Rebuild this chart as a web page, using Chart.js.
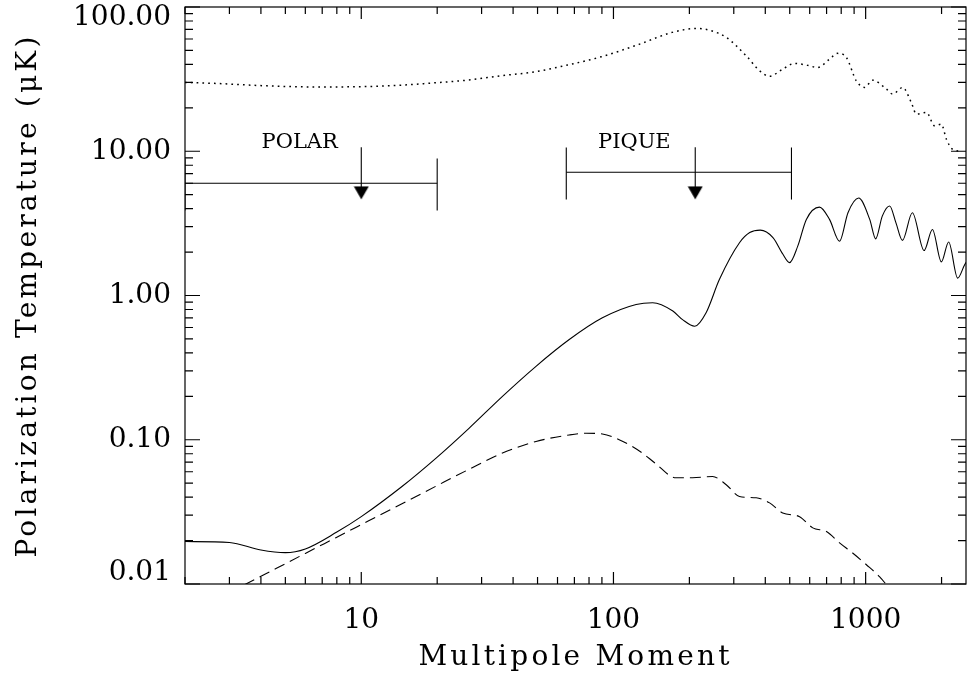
<!DOCTYPE html>
<html>
<head>
<meta charset="utf-8">
<script src="https://cdn.jsdelivr.net/npm/chart.js@4.4.1/dist/chart.umd.min.js"></script>
<style>
  html, body { margin: 0; padding: 0; background: #fff; }
</style>
</head>
<body>
<canvas id="cmb" width="967" height="676"></canvas>
<script>
// temperature anisotropy (dotted)
const tempEll = [2, 2.68, 4.24, 6.69, 10.6, 14.4, 19.5, 26.3, 35.9, 48.6, 65.7, 89.5, 127, 171, 215, 244, 280, 336, 380, 416, 469, 523, 582, 645, 720, 774, 838, 918, 991, 1066, 1208, 1280, 1402, 1518, 1589, 1741, 1879, 1996, 2091, 2214, 2399]
const tempVal = [30.0, 29.5, 28.4, 27.9, 28.1, 28.7, 29.8, 31.1, 33.4, 35.5, 39.6, 45.2, 55.3, 66.7, 71.1, 68.5, 61.6, 45.9, 36.1, 33.1, 37.1, 40.6, 39.6, 38.1, 43.6, 47.7, 44.8, 30.8, 27.7, 31.1, 27.0, 24.9, 27.7, 21.7, 18.1, 18.6, 15.0, 15.4, 12.1, 10.3, 10.0]

// E polarization (solid)
const polEll = [2, 3, 4, 5, 6, 8, 10, 14.5, 19.8, 26.8, 36.3, 49.3, 66.8, 90.4, 123, 143, 172, 188, 210, 233, 263, 316, 347, 382, 429, 470, 499, 538, 582, 656, 719, 788, 851, 938, 1038, 1096, 1164, 1245, 1318, 1399, 1532, 1705, 1840, 1996, 2134, 2317, 2472, 2560]
const polVal = [0.0197, 0.0194, 0.0172, 0.0165, 0.0175, 0.0229, 0.0293, 0.0474, 0.0746, 0.1205, 0.200, 0.323, 0.495, 0.70, 0.866, 0.89, 0.78, 0.68, 0.612, 0.76, 1.29, 2.32, 2.73, 2.84, 2.52, 1.93, 1.69, 2.20, 3.37, 4.10, 3.37, 2.38, 3.75, 4.74, 3.37, 2.47, 3.55, 4.17, 3.20, 2.41, 3.75, 2.05, 2.87, 1.71, 2.35, 1.32, 1.64, 1.80]

// dashed curve
const dashEll = [3.0, 3.49, 4.59, 6, 8, 10.7, 14.5, 19.8, 26.8, 36.3, 49.3, 66.8, 78, 90.4, 109, 130, 146, 177, 206, 247, 280, 316, 368, 416, 469, 547, 617, 699, 788, 888, 1007, 1137, 1250]
const dashVal = [0.0087, 0.0100, 0.0128, 0.0163, 0.0211, 0.0274, 0.0360, 0.0477, 0.0625, 0.0809, 0.0973, 0.108, 0.111, 0.1096, 0.0973, 0.081, 0.069, 0.0545, 0.0545, 0.0556, 0.0488, 0.0404, 0.0396, 0.0365, 0.0311, 0.0293, 0.0245, 0.0231, 0.0193, 0.0164, 0.0136, 0.0112, 0.0092]

// experimental upper limits
const expNames = ['POLAR', 'PIQUE']
const expLow = [2, 65]
const expHigh = [20, 508]
const expCentre = [10, 211]
const expLimit = [6.0, 7.15]

// tick labels
const xLabels = [10, 100, 1000]
const yLabels = [0.01, 0.1, 1, 10, 100]

// drawing details for the limit markers (data units)
const capSpan = [0.647, 1.485]
const arrowTop = 10.65
const arrowHead = 5.15
const labelEll = [5.7, 121]
const labelVal = 11.4

const xMin = 2, xMax = 2500, yMin = 0.01, yMax = 100

const near = (a, b) => Math.abs(a - b) < 1e-6 * Math.max(1, Math.abs(b))
const isStep = v => {
    const m = v / Math.pow(10, Math.floor(Math.log10(v) + 1e-9))
    return Math.abs(m - Math.round(m)) < 1e-6
}
const isDecade = v => {
    const e = Math.log10(v)
    return Math.abs(e - Math.round(e)) < 1e-6
}

// filled arrow head, used as a point style so it does not pad the chart area
const arrowImg = document.createElement('canvas')
arrowImg.width = 16
arrowImg.height = 14
const g = arrowImg.getContext('2d')
g.fillStyle = '#000'
g.beginPath()
g.moveTo(0.5, 0.5)
g.lineTo(15.5, 0.5)
g.lineTo(8, 13.5)
g.closePath()
g.fill()

const pts = (xs, ys) => xs.map((x, i) => ({x: x, y: ys[i]}))
const line = (data, extra) => Object.assign({
    data: data,
    showLine: true,
    borderColor: '#000',
    borderWidth: 1.1,
    pointRadius: 0,
    pointHoverRadius: 0,
    fill: false
}, extra || {})

const datasets = [
    line(pts(tempEll, tempVal), {borderDash: [1.7, 4.1], borderWidth: 1.5, cubicInterpolationMode: 'monotone'}),
    line(pts(polEll, polVal), {cubicInterpolationMode: 'monotone'}),
    line(pts(dashEll, dashVal), {borderDash: [11, 6], cubicInterpolationMode: 'monotone'})
]

expNames.forEach((name, i) => {
    const lo = expLow[i], hi = expHigh[i], c = expCentre[i], v = expLimit[i]
    datasets.push(line([{x: lo, y: v}, {x: hi, y: v}]))
    datasets.push(line([{x: lo, y: v * capSpan[0]}, {x: lo, y: v * capSpan[1]}]))
    datasets.push(line([{x: hi, y: v * capSpan[0]}, {x: hi, y: v * capSpan[1]}]))
    datasets.push(line([{x: c, y: arrowTop}, {x: c, y: arrowHead}]))
    datasets.push({
        data: [{x: c, y: arrowHead}],
        showLine: false,
        pointStyle: arrowImg,
        pointRadius: 0.5,
        pointHoverRadius: 0.5,
        pointBorderWidth: 0
    })
})

// titles spaced out, tick labels not
const spacing = {
    id: 'spacing',
    beforeDraw(chart) { chart.ctx.letterSpacing = '3.2px' },
    beforeDatasetsDraw(chart) { chart.ctx.letterSpacing = '0px' }
}

// box with inward ticks on all four sides, and the experiment names
const frame = {
    id: 'frame',
    afterDatasetsDraw(chart) {
        const ctx = chart.ctx
        const a = chart.chartArea
        const x = chart.scales.x, y = chart.scales.y
        ctx.save()
        ctx.strokeStyle = '#000'
        ctx.lineWidth = 1.2
        ctx.strokeRect(a.left, a.top, a.right - a.left, a.bottom - a.top)
        ctx.beginPath()
        x.ticks.forEach(t => {
            if (!isStep(t.value) || t.value < xMin || t.value > xMax) return
            const px = x.getPixelForValue(t.value)
            const len = isDecade(t.value) ? 12 : 7
            ctx.moveTo(px, a.bottom); ctx.lineTo(px, a.bottom - len)
            ctx.moveTo(px, a.top); ctx.lineTo(px, a.top + len)
        })
        y.ticks.forEach(t => {
            if (!isStep(t.value)) return
            const py = y.getPixelForValue(t.value)
            const len = isDecade(t.value) ? 15 : 8
            ctx.moveTo(a.left, py); ctx.lineTo(a.left + len, py)
            ctx.moveTo(a.right, py); ctx.lineTo(a.right - len, py)
        })
        ctx.stroke()

        ctx.font = '21px "DejaVu Serif"'
        ctx.fillStyle = '#000'
        ctx.textAlign = 'center'
        ctx.textBaseline = 'middle'
        expNames.forEach((n, i) => {
            ctx.fillText(n, x.getPixelForValue(labelEll[i]), y.getPixelForValue(labelVal))
        })
        ctx.restore()
    }
}

const ctx = document.getElementById('cmb').getContext('2d')

const config = {
    type: 'scatter',
    data: {datasets: datasets},
    options: {
        responsive: false,
        animation: false,
        events: [],
        layout: {padding: {top: 7, right: 1, left: 0, bottom: 0}},
        plugins: {legend: {display: false}, tooltip: {enabled: false}},
        scales: {
            x: {
                type: 'logarithmic',
                min: xMin,
                max: xMax,
                grid: {display: false, drawTicks: false},
                border: {display: false},
                ticks: {
                    autoSkip: false,
                    maxRotation: 0,
                    padding: 20,
                    z: 1,
                    color: '#000',
                    font: {family: 'DejaVu Serif', size: 28},
                    callback: v => xLabels.some(l => near(v, l)) ? String(Math.round(v)) : ''
                },
                title: {
                    display: true,
                    text: 'Multipole Moment',
                    color: '#000',
                    font: {family: 'DejaVu Serif', size: 28},
                    padding: {top: 0, bottom: 1}
                },
                afterFit: s => { s.height = 92; s.paddingLeft = 0; s.paddingRight = 0 }
            },
            y: {
                type: 'logarithmic',
                min: yMin,
                max: yMax,
                grid: {display: false, drawTicks: false},
                border: {display: false},
                ticks: {
                    autoSkip: false,
                    padding: 14,
                    z: 1,
                    color: '#000',
                    font: {family: 'DejaVu Serif', size: 28, lineHeight: 0.8},
                    callback: v => {
                        if (!yLabels.some(l => near(v, l))) return ''
                        const s = v.toFixed(2)
                        if (near(v, yMax)) return ['', s]
                        if (near(v, yMin)) return [s, '']
                        return s
                    }
                },
                title: {
                    display: true,
                    text: 'Polarization Temperature (\u03bcK)',
                    color: '#000',
                    font: {family: 'DejaVu Serif', size: 28},
                    padding: {top: 12, bottom: 0}
                },
                afterFit: s => { s.width = 185; s.paddingTop = 0; s.paddingBottom = 0 }
            }
        }
    },
    plugins: [spacing, frame]
}

const cmbChart = new Chart(ctx, config)
</script>
</body>
</html>
